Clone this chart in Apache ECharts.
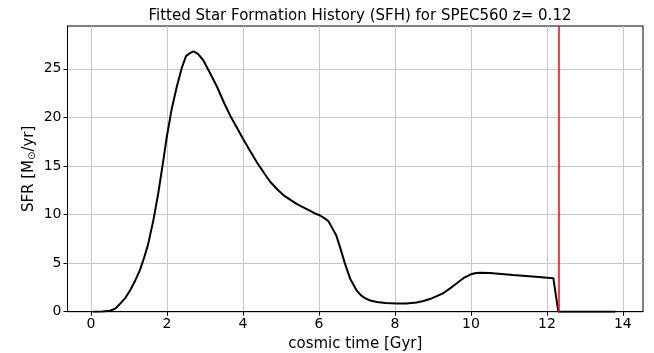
<!DOCTYPE html>
<html>
<head>
<meta charset="utf-8">
<script src="https://cdn.jsdelivr.net/npm/echarts@6/dist/echarts.min.js"></script>
<style>html,body{margin:0;padding:0;background:#fff}#c{width:654px;height:353px}</style>
</head>
<body>
<div id="c"></div>
<script>
const times = [0.05,0.3,0.5,0.65,0.76,0.9,1.03,1.15,1.29,1.4,1.5,1.64,1.77,1.9,1.99,2.12,2.26,2.39,2.5,2.6,2.7,2.82,2.95,3.1,3.31,3.5,3.66,3.83,4.0,4.18,4.36,4.55,4.71,4.9,5.06,5.25,5.41,5.6,5.76,5.9,6.03,6.15,6.25,6.35,6.45,6.55,6.68,6.82,6.99,7.1,7.21,7.35,7.52,7.75,8.04,8.3,8.57,8.75,8.92,9.1,9.27,9.45,9.62,9.8,9.97,10.1,10.24,10.5,11.11,11.7,12.17,12.3,13.8];
const sfr = [0,0.02,0.1,0.35,0.8,1.4,2.2,3.1,4.3,5.6,6.9,9.4,12.2,15.5,17.9,20.8,23.2,25.1,26.3,26.6,26.8,26.5,25.9,24.8,23.2,21.5,20.2,19.0,17.8,16.6,15.4,14.3,13.4,12.6,12.0,11.5,11.1,10.7,10.4,10.1,9.9,9.6,9.3,8.6,7.9,6.7,5.0,3.4,2.2,1.7,1.4,1.15,1.0,0.9,0.85,0.85,0.95,1.1,1.3,1.6,1.9,2.4,2.9,3.45,3.8,3.95,4.0,3.98,3.78,3.6,3.45,0,0];
const xTicks = [0,2,4,6,8,10,12,14];
const yTicks = [0,5,10,15,20,25];
const redLineTime = 12.3;
const titleText = 'Fitted Star Formation History (SFH) for SPEC560 z= 0.12';

const chart = echarts.init(document.getElementById('c'), null, {renderer:'canvas'});
const font = 'DejaVu Sans';
chart.setOption({
  animation: false,
  title: {
    text: titleText, left: 355, top: 4, textAlign: 'center',
    textStyle: {fontFamily: font, fontSize: 15, fontWeight: 'normal', color: '#000'}
  },
  grid: {left: 67.5, right: 11, top: 26, bottom: 41.3, show: true, borderColor: '#000', borderWidth: 1, containLabel: false, outerBoundsMode: 'none'},
  xAxis: {
    type: 'value', min: -0.62, max: 14.53,
    name: 'cosmic time [Gyr]', nameLocation: 'middle', nameGap: 25,
    nameTextStyle: {fontFamily: font, fontSize: 15, color: '#000'},
    axisLine: {show: true, onZero: false, lineStyle: {color: '#000', width: 1}},
    axisTick: {show: true, length: 4, customValues: xTicks, lineStyle: {color: '#000'}},
    axisLabel: {customValues: xTicks, fontFamily: font, fontSize: 14, color: '#000', margin: 6},
    splitLine: {show: true, lineStyle: {color: '#c8c8c8', width: 1}}
  },
  yAxis: {
    type: 'value', min: 0, max: 29.4,
    name: 'SFR [M{s|⊙}/yr]', nameLocation: 'middle', nameGap: 30, nameRotate: 90, nameMoveOverlap: false,
    nameTextStyle: {fontFamily: font, fontSize: 15, color: '#000', rich: {s: {fontFamily: font, fontSize: 10, color: '#000', verticalAlign: 'bottom', padding: [6,0,0,0]}}},
    axisLine: {show: true, onZero: false, lineStyle: {color: '#000', width: 1}},
    axisTick: {show: true, length: 4, customValues: yTicks, lineStyle: {color: '#000'}},
    axisLabel: {customValues: yTicks, fontFamily: font, fontSize: 14, color: '#000', margin: 6},
    splitLine: {show: true, lineStyle: {color: '#c8c8c8', width: 1}}
  },
  series: [{
    type: 'line',
    data: times.map((t, i) => [t, sfr[i]]),
    showSymbol: false, symbol: 'none',
    lineStyle: {color: '#000', width: 2},
    z: 3,
    markLine: {
      silent: true, symbol: 'none', label: {show: false},
      lineStyle: {color: '#ff0000', width: 1.5, type: 'solid'},
      data: [{xAxis: redLineTime}]
    }
  }]
});
</script>
</body>
</html>
